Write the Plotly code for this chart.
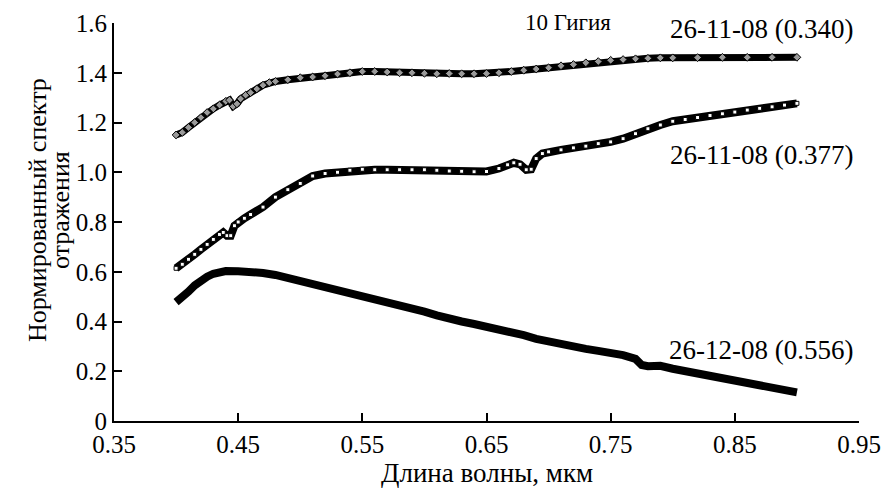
import plotly.graph_objects as go

# Series 1: 26-11-08 (0.340)
x_340 = [0.400, 0.405, 0.410, 0.415, 0.420, 0.425, 0.430, 0.435, 0.440, 0.443, 0.446, 0.449,
         0.452, 0.456, 0.460, 0.465, 0.470, 0.475, 0.480, 0.490, 0.500, 0.510, 0.520, 0.530,
         0.540, 0.550, 0.560, 0.570, 0.580, 0.590, 0.600, 0.610, 0.620, 0.630, 0.640, 0.650,
         0.660, 0.670, 0.680, 0.690, 0.700, 0.710, 0.720, 0.730, 0.740, 0.750, 0.760, 0.770,
         0.780, 0.790, 0.800, 0.820, 0.840, 0.860, 0.880, 0.900]
y_340 = [1.150, 1.160, 1.180, 1.200, 1.220, 1.240, 1.255, 1.270, 1.285, 1.290, 1.265, 1.275,
         1.295, 1.310, 1.320, 1.335, 1.350, 1.360, 1.365, 1.372, 1.380, 1.383, 1.388, 1.395,
         1.400, 1.405, 1.405, 1.403, 1.400, 1.400, 1.398, 1.396, 1.397, 1.396, 1.396, 1.397,
         1.400, 1.405, 1.410, 1.415, 1.420, 1.428, 1.433, 1.440, 1.445, 1.450, 1.453, 1.456,
         1.458, 1.460, 1.460, 1.461, 1.462, 1.462, 1.462, 1.462]

# Series 2: 26-11-08 (0.377)
x_377 = [0.400, 0.405, 0.410, 0.415, 0.420, 0.425, 0.430, 0.435, 0.438, 0.441, 0.444, 0.447,
         0.450, 0.455, 0.460, 0.470, 0.480, 0.490, 0.500, 0.510, 0.520, 0.530, 0.540, 0.550,
         0.560, 0.570, 0.580, 0.590, 0.600, 0.610, 0.620, 0.630, 0.640, 0.650, 0.660, 0.667,
         0.672, 0.677, 0.682, 0.686, 0.690, 0.695, 0.700, 0.710, 0.720, 0.730, 0.740, 0.750,
         0.760, 0.770, 0.780, 0.790, 0.800, 0.810, 0.820, 0.830, 0.840, 0.850, 0.860, 0.870,
         0.880, 0.890, 0.900]
y_377 = [0.614, 0.630, 0.650, 0.670, 0.690, 0.710, 0.730, 0.750, 0.758, 0.745, 0.745, 0.785,
         0.800, 0.815, 0.830, 0.860, 0.900, 0.930, 0.955, 0.985, 0.995, 1.000, 1.008, 1.012,
         1.010, 1.010, 1.010, 1.010, 1.010, 1.008, 1.005, 1.004, 1.002, 1.003, 1.015, 1.030,
         1.038, 1.032, 1.010, 1.012, 1.055, 1.075, 1.082, 1.090, 1.098, 1.105, 1.115, 1.122,
         1.135, 1.155, 1.175, 1.190, 1.205, 1.212, 1.220, 1.228, 1.235, 1.242, 1.250, 1.257,
         1.263, 1.270, 1.277]

# Series 3: 26-12-08 (0.556)
x_556 = [0.400, 0.405, 0.410, 0.415, 0.420, 0.425, 0.430, 0.435, 0.440, 0.450, 0.460, 0.470,
         0.480, 0.490, 0.500, 0.510, 0.520, 0.530, 0.540, 0.550, 0.560, 0.570, 0.580, 0.590,
         0.600, 0.610, 0.620, 0.630, 0.640, 0.650, 0.660, 0.670, 0.680, 0.690, 0.700, 0.710,
         0.720, 0.730, 0.740, 0.750, 0.760, 0.770, 0.775, 0.780, 0.785, 0.790, 0.800, 0.810,
         0.820, 0.830, 0.840, 0.850, 0.860, 0.870, 0.880, 0.890, 0.900]
y_556 = [0.478, 0.495, 0.520, 0.545, 0.565, 0.580, 0.592, 0.598, 0.603, 0.602, 0.600, 0.595,
         0.587, 0.575, 0.562, 0.550, 0.540, 0.528, 0.515, 0.505, 0.495, 0.480, 0.468, 0.455,
         0.440, 0.425, 0.410, 0.400, 0.390, 0.380, 0.370, 0.360, 0.345, 0.330, 0.318, 0.310,
         0.300, 0.290, 0.282, 0.275, 0.265, 0.250, 0.225, 0.220, 0.225, 0.222, 0.210, 0.200,
         0.192, 0.185, 0.175, 0.165, 0.155, 0.145, 0.135, 0.125, 0.115]

x_ticks = [0.35, 0.45, 0.55, 0.65, 0.75, 0.85, 0.95]
x_ticktext = ["0.35", "0.45", "0.55", "0.65", "0.75", "0.85", "0.95"]
y_ticks = [0, 0.2, 0.4, 0.6, 0.8, 1.0, 1.2, 1.4, 1.6]
y_ticktext = ["0", "0.2", "0.4", "0.6", "0.8", "1.0", "1.2", "1.4", "1.6"]

series_labels = ["26-11-08 (0.340)", "26-11-08 (0.377)", "26-12-08 (0.556)"]
# label anchor positions (paper fraction)
label_px = [0.994, 0.994, 0.994]
label_py = [0.984, 0.669, 0.1775]

y_title_lines = ["Нормированный спектр", "отражения"]
y_title_px = [37, 60]

FONT = "Liberation Serif, Times New Roman, serif"
L, R, T, B = 114, 23, 23, 72
PW = 882 - L - R

fig = go.Figure()

fig.add_trace(go.Scatter(
    x=x_340, y=y_340, mode="lines+markers",
    line=dict(color="black", width=7),
    marker=dict(symbol="diamond", size=6, color="#9a9a9a", line=dict(color="black", width=1)),
    showlegend=False, hoverinfo="skip"))
fig.add_trace(go.Scatter(
    x=x_377, y=y_377, mode="lines+markers",
    line=dict(color="black", width=8),
    marker=dict(symbol="square", size=4, color="white", line=dict(color="black", width=1)),
    showlegend=False, hoverinfo="skip"))
fig.add_trace(go.Scatter(
    x=x_556, y=y_556, mode="lines",
    line=dict(color="black", width=8),
    showlegend=False, hoverinfo="skip"))

for t, lx, ly in zip(series_labels, label_px, label_py):
    fig.add_annotation(x=lx, y=ly, xref="paper", yref="paper", text=t, showarrow=False,
                       font=dict(family=FONT, size=27, color="black"),
                       xanchor="right", yanchor="middle")

fig.add_annotation(x=0.61, y=1.002, xref="paper", yref="paper", text="10 Гигия", showarrow=False,
                   font=dict(family=FONT, size=23, color="black"),
                   xanchor="center", yanchor="middle")

for t, px in zip(y_title_lines, y_title_px):
    fig.add_annotation(x=(px - L) / PW, y=0.53, xref="paper", yref="paper",
                       text=t, showarrow=False, textangle=-90,
                       font=dict(family=FONT, size=26, color="black"),
                       xanchor="center", yanchor="middle")
fig.add_annotation(x=0.5, y=-0.13, xref="paper", yref="paper",
                   text="Длина волны, мкм", showarrow=False,
                   font=dict(family=FONT, size=27, color="black"),
                   xanchor="center", yanchor="middle")

fig.update_layout(
    width=882, height=493,
    margin=dict(l=L, r=R, t=T, b=B, autoexpand=False),
    paper_bgcolor="white", plot_bgcolor="white",
    font=dict(family=FONT, size=26, color="black"),
    xaxis=dict(range=[0.35, 0.95], tickvals=x_ticks, ticktext=x_ticktext, automargin=False,
               showgrid=False, zeroline=False, showline=True, linecolor="black", linewidth=2,
               ticks="inside", ticklen=8, tickwidth=2, tickcolor="black",
               tickfont=dict(family=FONT, size=25, color="black")),
    yaxis=dict(range=[0, 1.6], tickvals=y_ticks, ticktext=y_ticktext, automargin=False,
               showgrid=False, zeroline=False, showline=True, linecolor="black", linewidth=2,
               ticks="inside", ticklen=8, tickwidth=2, tickcolor="black",
               tickfont=dict(family=FONT, size=25, color="black")),
)

fig.write_html("out.html")
